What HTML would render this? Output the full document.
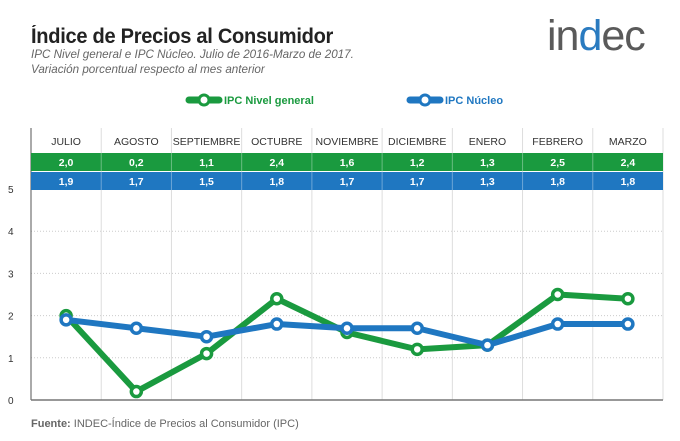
<!DOCTYPE html>
<html><head><meta charset="utf-8"><style>
body{margin:0;background:#fff;font-family:"Liberation Sans",sans-serif;}
#wrap{position:relative;width:680px;height:441px;overflow:hidden;}
.t{position:absolute;white-space:nowrap;}
</style></head><body>
<div id="wrap">
<div class="t" style="left:31px;top:25px;font-size:21px;font-weight:bold;color:#222;letter-spacing:-0.3px;transform:scaleX(0.955);transform-origin:left">Índice de Precios al Consumidor</div>
<div class="t" style="left:31px;top:47px;font-size:12px;font-style:italic;color:#666;line-height:15px;transform:scaleX(0.97);transform-origin:left">IPC Nivel general e IPC Núcleo. Julio de 2016-Marzo de 2017.<br>Variación porcentual respecto al mes anterior</div>
<div class="t" style="left:547px;top:12px;font-size:43px;color:#5a5a5a;letter-spacing:-1px">in<span style="color:#2a7bc0">d</span>ec</div>
<svg id="chart" width="680" height="441" style="position:absolute;left:0;top:0"></svg>
<div class="t" style="left:31px;top:418px;font-size:11px;color:#666"><b>Fuente:</b> INDEC-Índice de Precios al Consumidor (IPC)</div>
</div>
<script>
const months=["JULIO","AGOSTO","SEPTIEMBRE","OCTUBRE","NOVIEMBRE","DICIEMBRE","ENERO","FEBRERO","MARZO"];
const general=[2.0,0.2,1.1,2.4,1.6,1.2,1.3,2.5,2.4];
const nucleo=[1.9,1.7,1.5,1.8,1.7,1.7,1.3,1.8,1.8];
const yTicks=[0,1,2,3,4,5];
const svg=document.getElementById('chart');const NS="http://www.w3.org/2000/svg";
const X0=31,X1=663,Y0=400,PER=42.2,colW=(X1-X0)/months.length;
const xs=i=>X0+colW*(i+0.5), ys=v=>Y0-v*PER;
function el(tag,attrs,parent){const e=document.createElementNS(NS,tag);for(const k in attrs)e.setAttribute(k,attrs[k]);(parent||svg).appendChild(e);return e;}
const fmt=v=>v.toFixed(1).replace('.',',');
yTicks.forEach(t=>{if(t>0){const g=el('line',{x1:X0,x2:X1,y1:ys(t),y2:ys(t),stroke:'#ccc','stroke-dasharray':'1,2'});

}
const l=el('text',{x:8,y:ys(t)+4,'font-size':10,fill:'#333','font-family':'Liberation Sans'});l.textContent=t;

});
for(let i=1;i<=months.length;i++){const v=el('line',{x1:X0+colW*i,x2:X0+colW*i,y1:128,y2:Y0,stroke:'#ddd'});

}
const ax=el('line',{x1:X0,x2:X0,y1:128,y2:Y0,stroke:'#555'});


const bx=el('line',{x1:X0,x2:X1,y1:Y0,y2:Y0,stroke:'#777','stroke-width':1.5});


const gb=el('rect',{x:X0,y:153,width:X1-X0,height:18,fill:'#1a9a3f'});


const bb=el('rect',{x:X0,y:172,width:X1-X0,height:18,fill:'#1f77c1'});


months.forEach((m,i)=>{const x=xs(i);
const t=el('text',{x:x,y:145,'font-size':10.5,fill:'#333','text-anchor':'middle','font-family':'Liberation Sans'});t.textContent=m;


const a=el('text',{x:x,y:166,'font-size':10.5,'font-weight':'bold',fill:'#fff','text-anchor':'middle','font-family':'Liberation Sans'});a.textContent=fmt(general[i]);


const b=el('text',{x:x,y:185,'font-size':10.5,'font-weight':'bold',fill:'#fff','text-anchor':'middle','font-family':'Liberation Sans'});b.textContent=fmt(nucleo[i]);

});
for(let i=1;i<months.length;i++){[153,172].forEach(y=>{el('line',{x1:X0+colW*i,x2:X0+colW*i,y1:y,y2:y+18,stroke:'rgba(255,255,255,0.35)'});});}
function series(vals,color,name){
const p=el('polyline',{points:vals.map((v,i)=>xs(i)+','+ys(v)).join(' '),fill:'none',stroke:color,'stroke-width':6,'stroke-linejoin':'round'});


vals.forEach((v,i)=>{const c=el('circle',{cx:xs(i),cy:ys(v),r:5,fill:'#fff',stroke:color,'stroke-width':3.5});

});}
series(general,'#1a9a3f','general');
series(nucleo,'#1f77c1','nucleo');
function legend(x,color,label,name){const g=el('g',{});


el('line',{x1:x,x2:x+30,y1:100,y2:100,stroke:color,'stroke-width':7,'stroke-linecap':'round'},g);
el('circle',{cx:x+15,cy:100,r:5,fill:'#fff',stroke:color,'stroke-width':3},g);
const t=el('text',{x:x+35,y:104,'font-size':11,'font-weight':'bold',fill:color,'font-family':'Liberation Sans'},g);t.textContent=label;}
legend(189,'#1a9a3f','IPC Nivel general','general');
legend(410,'#1f77c1','IPC Núcleo','nucleo');
</script>
</body></html>
